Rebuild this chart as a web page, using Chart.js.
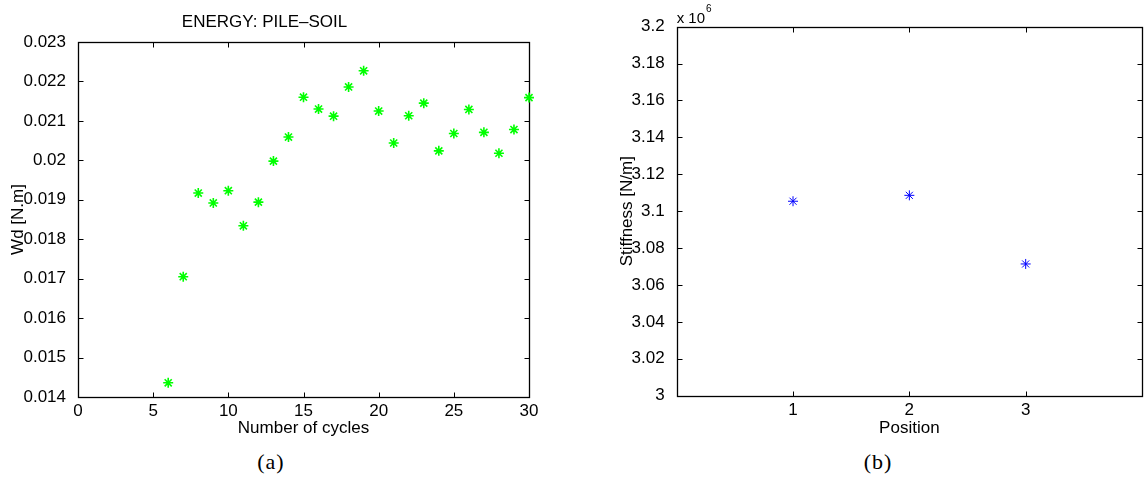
<!DOCTYPE html>
<html>
<head>
<meta charset="utf-8">
<script src="https://cdn.jsdelivr.net/npm/chart.js@4/dist/chart.umd.min.js"></script>
<style>
  html, body { margin: 0; padding: 0; background: #fff; }
  #wrap { position: relative; width: 1148px; height: 479px; overflow: hidden; }
  canvas { position: absolute; top: 0; }
  #cvA { left: 0; }
  #cvB { left: 565px; }
  .cap { position: absolute; top: 449px; width: 60px; text-align: center;
         font: 22px "Liberation Serif", "DejaVu Serif", serif; letter-spacing: 1px; color: #000; }
</style>
</head>
<body>
<div id="wrap">
  <canvas id="cvA" width="560" height="445"></canvas>
  <canvas id="cvB" width="583" height="445"></canvas>
  <div class="cap" style="left:241px">(a)</div>
  <div class="cap" style="left:848px">(b)</div>
</div>
<script>
// (a) energy pile-soil per cycle
const cycles = [6, 7, 8, 9, 10, 11, 12, 13, 14, 15, 16, 17, 18, 19, 20, 21, 22, 23, 24, 25, 26, 27, 28, 29, 30];
const energyWd = [0.01436, 0.01705, 0.01917, 0.01892, 0.01923, 0.01834, 0.01894, 0.01998, 0.02059, 0.02160,
                  0.02130, 0.02112, 0.02186, 0.02227, 0.02125, 0.02044, 0.02113, 0.02145, 0.02024, 0.02068,
                  0.02129, 0.02071, 0.02018, 0.02078, 0.02159];
const xTicksA = [0, 5, 10, 15, 20, 25, 30];
const yTicksA = [0.014, 0.015, 0.016, 0.017, 0.018, 0.019, 0.02, 0.021, 0.022, 0.023];

// (b) stiffness per position
const positions = [1, 2, 3];
const stiffness = [3.1054e6, 3.1086e6, 3.0714e6];
const xTicksB = [1, 2, 3];
const yTicksB = [3.0, 3.02, 3.04, 3.06, 3.08, 3.1, 3.12, 3.14, 3.16, 3.18, 3.2];

const FONT = '"Liberation Sans", Arial, Helvetica, sans-serif';
Chart.defaults.font.family = FONT;
Chart.defaults.color = '#000';

// matlab style box with inward tick marks on all four sides
const boxPlugin = {
  id: 'box',
  beforeDatasetsDraw(chart) {
    const { ctx, chartArea: a, scales } = chart;
    const L = Math.round(a.left) + 0.5, R = Math.round(a.right) + 0.5;
    const T = Math.round(a.top) + 0.5, B = Math.round(a.bottom) + 0.5;
    ctx.save();
    ctx.strokeStyle = '#000';
    ctx.lineWidth = 1;
    ctx.beginPath();
    scales.x.ticks.forEach(t => {
      const p = Math.round(scales.x.getPixelForValue(t.value)) + 0.5;
      ctx.moveTo(p, B); ctx.lineTo(p, B - 5);
      ctx.moveTo(p, T); ctx.lineTo(p, T + 5);
    });
    scales.y.ticks.forEach(t => {
      const p = Math.round(scales.y.getPixelForValue(t.value)) + 0.5;
      ctx.moveTo(L, p); ctx.lineTo(L + 5, p);
      ctx.moveTo(R, p); ctx.lineTo(R - 5, p);
    });
    ctx.stroke();
    ctx.lineWidth = 1.3;
    ctx.strokeRect(L, T, R - L, B - T);
    ctx.restore();
  }
};

function setTicks(list) {
  return scale => { scale.ticks = list.map(v => ({ value: v })); };
}

function axisFont(size) {
  return { family: FONT, size: size };
}

new Chart(document.getElementById('cvA'), {
  type: 'scatter',
  data: {
    datasets: [{
      data: cycles.map((c, i) => ({ x: c, y: energyWd[i] })),
      pointStyle: 'star',
      pointRadius: 5,
      borderColor: '#00ff00',
      backgroundColor: '#00ff00',
      pointBorderWidth: 1.6,
      clip: false
    }]
  },
  options: {
    responsive: false,
    animation: false,
    layout: { padding: { left: 0, right: 31, top: 0, bottom: 0 } },
    plugins: {
      legend: { display: false },
      tooltip: { enabled: false },
      title: {
        display: true,
        text: 'ENERGY: PILE\u2013SOIL',
        font: { family: FONT, size: 17, weight: 'normal', lineHeight: 1.2 },
        color: '#000',
        padding: { top: 12, bottom: 9.6 }
      }
    },
    scales: {
      x: {
        type: 'linear', min: 0, max: 30,
        afterBuildTicks: setTicks(xTicksA),
        afterFit: s => { s.height = 48; },
        grid: { display: false },
        border: { display: false },
        ticks: { font: axisFont(17), padding: -4, maxRotation: 0, autoSkip: false },
        title: { display: true, text: 'Number of cycles', font: axisFont(17), padding: { top: 0, bottom: 6.8 } }
      },
      y: {
        type: 'linear', min: 0.014, max: 0.023,
        afterBuildTicks: setTicks(yTicksA),
        afterFit: s => { s.width = 78; },
        grid: { display: false },
        border: { display: false },
        ticks: { font: axisFont(17), padding: 4, autoSkip: false, callback: v => String(+v.toFixed(3)) },
        title: { display: true, text: 'Wd [N.m]', font: axisFont(17), padding: { top: 7.8, bottom: 0 } }
      }
    }
  },
  plugins: [boxPlugin]
});

const expPlugin = {
  id: 'exponent',
  afterDraw(chart) {
    const { ctx, chartArea: a } = chart;
    ctx.save();
    ctx.fillStyle = '#000';
    ctx.textBaseline = 'alphabetic';
    ctx.font = '15px ' + FONT;
    ctx.fillText('x 10', a.left, 23);
    const w = ctx.measureText('x 10').width;
    ctx.font = '10px ' + FONT;
    ctx.fillText('6', a.left + w + 1, 12);
    ctx.restore();
  }
};

new Chart(document.getElementById('cvB'), {
  type: 'scatter',
  data: {
    datasets: [{
      data: positions.map((p, i) => ({ x: p, y: stiffness[i] })),
      pointStyle: 'star',
      pointRadius: 5,
      borderColor: '#0000ff',
      backgroundColor: '#0000ff',
      pointBorderWidth: 1,
      clip: false
    }]
  },
  options: {
    responsive: false,
    animation: false,
    layout: { padding: { left: 0, right: 4, top: 26.7, bottom: 0 } },
    plugins: {
      legend: { display: false },
      tooltip: { enabled: false }
    },
    scales: {
      x: {
        type: 'linear', min: 0, max: 4,
        afterBuildTicks: setTicks(xTicksB),
        afterFit: s => { s.height = 49.3; },
        grid: { display: false },
        border: { display: false },
        ticks: { font: axisFont(17), padding: -4, maxRotation: 0, autoSkip: false },
        title: { display: true, text: 'Position', font: axisFont(17), padding: { top: 0, bottom: 6.8 } }
      },
      y: {
        type: 'linear', min: 3.0e6, max: 3.2e6,
        afterBuildTicks: setTicks(yTicksB.map(v => v * 1e6)),
        afterFit: s => { s.width = 111.7; },
        grid: { display: false },
        border: { display: false },
        ticks: { font: axisFont(17), padding: 4, autoSkip: false, callback: v => String(+(v / 1e6).toFixed(2)) },
        title: { display: true, text: 'Stiffness [N/m]', font: axisFont(17), padding: { top: 51.8, bottom: 0 } }
      }
    }
  },
  plugins: [boxPlugin, expPlugin]
});
</script>
</body>
</html>
